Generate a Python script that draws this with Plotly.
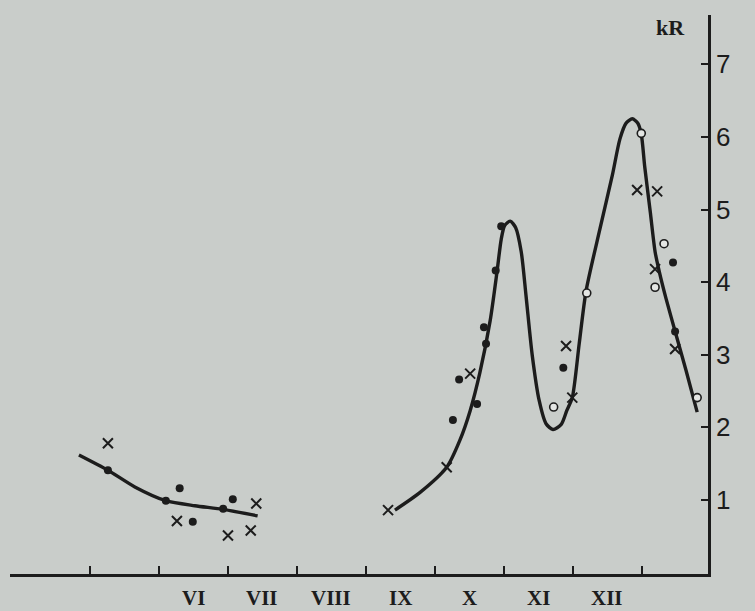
import plotly.graph_objects as go

# x in months (5 = 1 May, 6 = 1 June, ... 13 = 1 January), y in kR
month_ticks = [5, 6, 7, 8, 9, 10, 11, 12, 13]
month_label_pos = [6.5, 7.5, 8.5, 9.5, 10.5, 11.5, 12.5]
month_labels = ["VI", "VII", "VIII", "IX", "X", "XI", "XII"]
y_ticks = [1, 2, 3, 4, 5, 6, 7]

curve1_x = [4.84, 5.26, 5.65, 6.10, 6.52, 6.93, 7.43]
curve1_y = [1.62, 1.41, 1.18, 0.99, 0.92, 0.87, 0.78]

curve2_x = [9.42, 9.78, 10.17, 10.36, 10.51, 10.65, 10.80, 10.90, 10.96, 11.01, 11.09,
            11.17, 11.25, 11.32, 11.41, 11.51, 11.61, 11.71, 11.83, 11.91, 11.99, 12.09,
            12.19, 12.39, 12.57, 12.68, 12.77, 12.86, 12.94, 12.99, 13.04, 13.12, 13.19,
            13.25, 13.35, 13.49, 13.64, 13.80]
curve2_y = [0.86, 1.10, 1.45, 1.82, 2.23, 2.75, 3.47, 4.15, 4.59, 4.78, 4.84,
            4.75, 4.42, 3.81, 2.99, 2.37, 2.05, 1.97, 2.04, 2.23, 2.41, 3.15,
            3.88, 4.73, 5.47, 5.97, 6.19, 6.25, 6.19, 6.04, 5.59, 4.97, 4.42,
            4.15, 3.77, 3.29, 2.78, 2.21]

dots_x = [5.26, 6.30, 6.10, 6.49, 7.07, 6.93,
          10.26, 10.35, 10.61, 10.74, 10.71, 10.88, 10.96, 11.86, 13.45, 13.48]
dots_y = [1.41, 1.16, 0.99, 0.70, 1.01, 0.88,
          2.10, 2.66, 2.32, 3.15, 3.38, 4.16, 4.77, 2.82, 4.27, 3.32]

cross_x = [5.26, 6.26, 7.41, 7.00, 7.33,
           9.32, 10.17, 10.51, 11.90, 11.99, 12.93, 13.22, 13.19, 13.48]
cross_y = [1.78, 0.71, 0.95, 0.51, 0.58,
           0.86, 1.45, 2.74, 3.12, 2.41, 5.27, 5.25, 4.18, 3.08]

open_x = [11.72, 12.20, 12.99, 13.32, 13.19, 13.80]
open_y = [2.28, 3.85, 6.05, 4.53, 3.93, 2.41]

ink = "#1c1c1c"
paper = "#c9cdca"

fig = go.Figure()
for cx, cy in [(curve1_x, curve1_y), (curve2_x, curve2_y)]:
    fig.add_trace(go.Scatter(x=cx, y=cy, mode="lines",
                             line=dict(color=ink, width=3.4, shape="spline", smoothing=0.7),
                             showlegend=False, hoverinfo="skip"))
fig.add_trace(go.Scatter(x=dots_x, y=dots_y, mode="markers",
                         marker=dict(symbol="circle", size=8, color=ink),
                         showlegend=False))
fig.add_trace(go.Scatter(x=cross_x, y=cross_y, mode="markers",
                         marker=dict(symbol="x-thin", size=10, line=dict(color=ink, width=2)),
                         showlegend=False))
fig.add_trace(go.Scatter(x=open_x, y=open_y, mode="markers",
                         marker=dict(symbol="circle", size=8, color="#e4e6e4",
                                     line=dict(color=ink, width=1.6)),
                         showlegend=False))

month_annots = [dict(text="<b>%s</b>" % lab, x=pos, xref="x", y=0, yref="paper",
                     xanchor="center", yanchor="top", yshift=-10, showarrow=False,
                     font=dict(family="Liberation Serif", size=21, color=ink))
                for pos, lab in zip(month_label_pos, month_labels)]

xr = [3.841, 13.957]
fig.update_layout(
    width=755, height=611,
    paper_bgcolor=paper, plot_bgcolor=paper,
    margin=dict(l=10, r=47, t=15, b=37),
    xaxis=dict(range=xr, showline=True, linewidth=2.5, linecolor=ink,
               tickvals=month_ticks, ticks="inside", ticklen=8, tickwidth=2,
               tickcolor=ink, showticklabels=False, showgrid=False, zeroline=False),
    yaxis=dict(range=[-0.02, 7.68], side="right", showline=True, linewidth=2.5,
               linecolor=ink, tickvals=y_ticks, ticks="inside", ticklen=7,
               tickwidth=2, tickcolor=ink, showgrid=False, zeroline=False,
               tickfont=dict(family="Liberation Sans", size=26, color=ink)),
    annotations=[dict(text="<b>kR</b>", xref="paper", yref="paper", x=0.9456, y=0.977,
                      xanchor="center", yanchor="middle", showarrow=False,
                      font=dict(family="Liberation Serif", size=22, color=ink))]
                + month_annots,
)
post = (
    "document.documentElement.style.background='%s';"
    "document.documentElement.style.overflow='hidden';"
    "document.body.style.margin='0';document.body.style.padding='0';"
    "document.body.style.overflow='hidden';"
    "var d=document.getElementsByClassName('plotly-graph-div')[0];"
    "d.style.position='fixed';d.style.left='0px';d.style.top='0px';" % paper
)
fig.write_html("out.html", config={"responsive": False, "displayModeBar": False},
               post_script=post)
